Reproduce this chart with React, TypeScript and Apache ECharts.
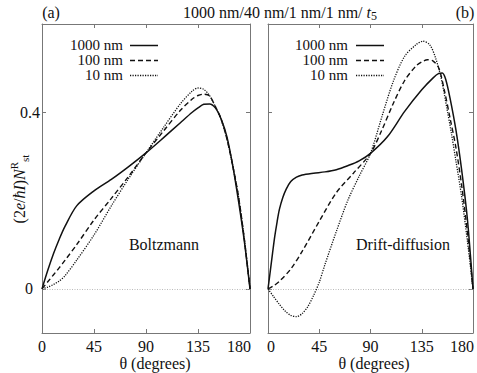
import React, { useEffect, useRef } from 'react';
import * as echarts from 'echarts';

const FONT = "'Liberation Serif', 'Times New Roman', serif";
const INK = '#111';
const FRAME = '#777';

// ---- data: panel (a) Boltzmann ----
const ANGLES_B = [0, 5, 10, 15, 20, 30, 45, 60, 75, 90, 105, 120, 130, 135, 140, 145, 150, 155, 160, 165, 170, 175, 180];
const BOLTZ_1000 = [0, 0.042, 0.08, 0.113, 0.142, 0.188, 0.222, 0.248, 0.277, 0.308, 0.342, 0.377, 0.4, 0.41, 0.418, 0.419, 0.41, 0.385, 0.345, 0.28, 0.2, 0.11, 0];
const BOLTZ_100 = [0, 0.016, 0.032, 0.048, 0.065, 0.1, 0.156, 0.205, 0.255, 0.308, 0.357, 0.405, 0.43, 0.438, 0.441, 0.437, 0.413, 0.385, 0.34, 0.28, 0.21, 0.115, 0];
const BOLTZ_10 = [0, 0.004, 0.01, 0.018, 0.03, 0.065, 0.122, 0.188, 0.25, 0.308, 0.365, 0.42, 0.448, 0.455, 0.452, 0.438, 0.413, 0.383, 0.34, 0.28, 0.21, 0.115, 0];

// ---- data: panel (b) Drift-diffusion ----
const ANGLES_DD_1000 = [0, 2, 4, 6, 8, 10, 13, 16, 20, 25, 30, 40, 50, 60, 70, 80, 90, 105, 120, 135, 145, 150, 153, 156, 160, 165, 170, 175, 180];
const DD_1000 = [0, 0.04, 0.081, 0.12, 0.152, 0.18, 0.207, 0.226, 0.243, 0.253, 0.258, 0.262, 0.265, 0.27, 0.279, 0.29, 0.307, 0.345, 0.402, 0.451, 0.478, 0.488, 0.489, 0.475, 0.43, 0.36, 0.27, 0.16, 0];
const ANGLES_DD_100 = [0, 5, 10, 20, 30, 45, 60, 75, 90, 100, 110, 120, 130, 135, 140, 145, 150, 155, 160, 165, 170, 175, 180];
const DD_100 = [0, 0.007, 0.017, 0.045, 0.085, 0.153, 0.218, 0.262, 0.307, 0.36, 0.42, 0.472, 0.505, 0.514, 0.519, 0.516, 0.5, 0.448, 0.385, 0.32, 0.235, 0.13, 0];
const ANGLES_DD_10 = [0, 5, 10, 15, 20, 25, 30, 35, 40, 45, 50, 60, 70, 80, 90, 100, 110, 120, 130, 136, 142, 147, 152, 157, 161, 165, 170, 175, 180];
const DD_10 = [0, -0.018, -0.035, -0.05, -0.06, -0.063, -0.056, -0.04, -0.015, 0.015, 0.055, 0.13, 0.2, 0.255, 0.307, 0.39, 0.47, 0.527, 0.553, 0.561, 0.553, 0.524, 0.478, 0.41, 0.353, 0.29, 0.209, 0.11, 0];

// ---- ticks & labels ----
const X_TICKS = [0, 45, 90, 135, 180];
const Y_TICKS = [0, 0.4];
const LEGEND_NAMES = ['1000 nm', '100 nm', '10 nm'];
const PANEL_TAGS = ['(a)', '(b)'];
const PANEL_NAMES = ['Boltzmann', 'Drift-diffusion'];
const X_TITLE = 'θ (degrees)';

const DASHES: any[] = ['solid', [5, 3], [1.2, 1.3]];
const WIDTHS = [1.5, 1.4, 1.3];

function App() {
  const ref = useRef<HTMLDivElement>(null);
  useEffect(() => {
    const chart = echarts.init(ref.current!, null, { renderer: 'svg' });
    const grids = [
      { left: 42, top: 24, width: 208, height: 309 },
      { left: 268, top: 24, width: 207, height: 309 },
    ];
    const frameLine = { show: true, onZero: false, lineStyle: { color: FRAME, width: 1 } };
    const tick = { show: true, inside: true, length: 4, lineStyle: { color: FRAME, width: 1 } };
    const xAxes: any[] = [];
    const yAxes: any[] = [];
    [0, 1].forEach((g) => {
      xAxes.push({
        type: 'value', gridIndex: g, min: X_TICKS[0], max: X_TICKS[X_TICKS.length - 1], interval: 45, position: 'bottom',
        axisLine: frameLine, axisTick: tick, splitLine: { show: false },
        axisLabel: {
          show: true, margin: 5, color: INK, fontFamily: FONT, fontSize: 16,
          formatter: (v: number) => (v === 180 ? '{r|180}' : v === 0 && g === 1 ? '{l|0}' : String(v)),
          rich: {
            r: { fontFamily: FONT, fontSize: 16, color: INK, padding: [0, 22, 0, 0] },
            l: { fontFamily: FONT, fontSize: 16, color: INK, padding: [0, 0, 0, 6] },
          },
        },
      });
      xAxes.push({
        type: 'value', gridIndex: g, min: 0, max: 180, interval: 45, position: 'top',
        axisLine: frameLine, axisTick: tick, splitLine: { show: false }, axisLabel: { show: false },
      });
      yAxes.push({
        type: 'value', gridIndex: g, min: -0.1, max: 0.6, position: 'left',
        axisLine: frameLine,
        axisTick: { ...tick, customValues: Y_TICKS },
        splitLine: { show: false },
        axisLabel: {
          show: g === 0, customValues: Y_TICKS, margin: 2, color: INK, fontFamily: FONT, fontSize: 16,
          formatter: (v: number) => (v === 0 ? '{z|0}' : String(v)),
          rich: { z: { fontFamily: FONT, fontSize: 16, color: INK, padding: [0, 7, 0, 0] } },
        },
      });
      yAxes.push({
        type: 'value', gridIndex: g, min: -0.1, max: 0.6, position: 'right',
        axisLine: frameLine,
        axisTick: { ...tick, customValues: Y_TICKS },
        splitLine: { show: false }, axisLabel: { show: false },
      });
    });

    const panels = [
      [[ANGLES_B, BOLTZ_1000], [ANGLES_B, BOLTZ_100], [ANGLES_B, BOLTZ_10]],
      [[ANGLES_DD_1000, DD_1000], [ANGLES_DD_100, DD_100], [ANGLES_DD_10, DD_10]],
    ];
    const series: any[] = [];
    panels.forEach((curves, p) => {
      curves.forEach(([angles, vals], k) => {
        series.push({
          type: 'line', name: LEGEND_NAMES[k] + p,
          xAxisIndex: p * 2, yAxisIndex: p * 2,
          data: (angles as number[]).map((a, i) => [a, (vals as number[])[i]]),
          showSymbol: false, symbol: 'none', smooth: 0.3,
          lineStyle: { color: INK, width: WIDTHS[k], type: DASHES[k] },
          z: 3,
          markLine: k === 0 ? {
            silent: true, symbol: ['none', 'none'], label: { show: false },
            lineStyle: { color: '#aaa', type: [1, 1.5], width: 0.8 },
            data: [{ yAxis: 0 }], z: 1,
          } : undefined,
        });
      });
    });

    const graphic: any[] = [];
    const legendX = [[123, 130, 158], [348, 356, 384]];
    const legendY = [45, 60, 75];
    [0, 1].forEach((p) => {
      LEGEND_NAMES.forEach((n, k) => {
        graphic.push({
          type: 'text', x: legendX[p][0], y: legendY[k],
          style: { text: n, fontFamily: FONT, fontSize: 15, lineHeight: 13, fill: INK, align: 'right', verticalAlign: 'middle' },
        });
        graphic.push({
          type: 'line',
          shape: { x1: legendX[p][1], y1: legendY[k] + 0.5, x2: legendX[p][2], y2: legendY[k] + 0.5 },
          style: { stroke: INK, lineWidth: WIDTHS[k], lineDash: DASHES[k] === 'solid' ? null : DASHES[k] },
        });
      });
    });
    const tagX = [51, 465];
    PANEL_TAGS.forEach((t, p) => {
      graphic.push({
        type: 'text', x: tagX[p], y: 12,
        style: { text: t, fontFamily: FONT, fontSize: 16, fill: INK, align: 'center', verticalAlign: 'middle' },
      });
    });
    const nameX = [164, 403];
    PANEL_NAMES.forEach((t, p) => {
      graphic.push({
        type: 'text', x: nameX[p], y: 244,
        style: { text: t, fontFamily: FONT, fontSize: 16, fill: INK, align: 'center', verticalAlign: 'middle' },
      });
    });
    const xtX = [155, 374];
    xtX.forEach((x) => {
      graphic.push({
        type: 'text', x, y: 363,
        style: { text: X_TITLE, fontFamily: FONT, fontSize: 16, fill: INK, align: 'center', verticalAlign: 'middle' },
      });
    });
    graphic.push({
      type: 'text', x: 280, y: 12,
      style: {
        text: '{n|1000 nm/40 nm/1 nm/1 nm/ }{i|t}{s|5}',
        align: 'center', verticalAlign: 'middle',
        rich: {
          n: { fontFamily: FONT, fontSize: 16, fill: INK, lineHeight: 20, verticalAlign: 'middle' },
          i: { fontFamily: FONT, fontSize: 16, fill: INK, fontStyle: 'italic', lineHeight: 20, verticalAlign: 'middle' },
          s: { fontFamily: FONT, fontSize: 12, fill: INK, verticalAlign: 'bottom', lineHeight: 20, padding: [6, 0, 0, 0] },
        },
      },
    });
    graphic.push({
      type: 'text', x: 19, y: 189, rotation: Math.PI / 2,
      style: {
        text: '{n|(2}{i|e}{n|/}{i|ħI}{n|)}{i|N}{sup|R}{sub|st}',
        align: 'center', verticalAlign: 'middle',
        rich: {
          n: { fontFamily: FONT, fontSize: 16, fill: INK, lineHeight: 22, verticalAlign: 'middle' },
          i: { fontFamily: FONT, fontSize: 16, fill: INK, fontStyle: 'italic', lineHeight: 22, verticalAlign: 'middle' },
          sup: { fontFamily: FONT, fontSize: 11, fill: INK, verticalAlign: 'top', lineHeight: 22, padding: [0, 0, 8, 0] },
          sub: { fontFamily: FONT, fontSize: 11, fill: INK, verticalAlign: 'bottom', lineHeight: 22, padding: [8, 0, 0, 0] },
        },
      },
    });

    chart.setOption({
      animation: false,
      backgroundColor: '#fff',
      grid: grids,
      xAxis: xAxes,
      yAxis: yAxes,
      series,
      graphic,
    });
    return () => chart.dispose();
  }, []);
  return <div ref={ref} style={{ width: 477, height: 373, position: 'absolute', left: 0, top: 0 }} />;
}

export default App;
